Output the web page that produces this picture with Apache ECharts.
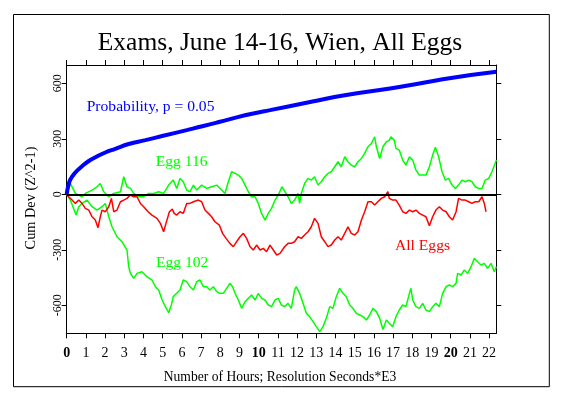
<!DOCTYPE html>
<html>
<head>
<meta charset="utf-8">
<script src="https://cdn.jsdelivr.net/npm/echarts@6/dist/echarts.min.js"></script>
<style>
html,body{margin:0;padding:0;background:#fff;}
#c{width:563px;height:398px;}
</style>
</head>
<body>
<div id="c"></div>
<script>
// ---- data (hours, cumulative deviation) ----
const xTickValues = [0,1,2,3,4,5,6,7,8,9,10,11,12,13,14,15,16,17,18,19,20,21,22];
const yTickValues = [-600,-300,0,300,600];

const probability = [[0,0],[0.07,41],[0.19,80],[0.45,118],[0.80,152],[1.15,180],[1.49,200],[2.01,226],[2.53,246],[3.23,272],[4.10,293],[4.97,315],[6.25,347],[7.12,369],[7.98,392],[8.85,416],[9.72,437],[10.59,455],[12.74,500],[14.48,536],[16.84,572],[18.37,599],[20.10,630],[22.38,662]];

const egg116 = [[0,0],[0.19,59],[0.45,5],[0.63,-4],[0.80,-13],[0.97,5],[1.32,23],[1.58,41],[1.75,59],[1.93,14],[2.19,-13],[2.45,5],[2.80,14],[2.97,95],[3.14,41],[3.32,32],[3.49,5],[3.75,-13],[4.01,-13],[4.27,5],[4.53,5],[4.79,14],[5.05,5],[5.31,50],[5.55,77],[5.73,32],[5.90,86],[6.07,68],[6.25,23],[6.42,14],[6.60,50],[6.77,23],[7.03,50],[7.29,32],[7.55,41],[7.81,50],[8.07,23],[8.24,5],[8.42,68],[8.59,122],[8.77,113],[8.94,104],[9.11,86],[9.29,50],[9.46,14],[9.63,-13],[9.81,-13],[9.98,-49],[10.15,-103],[10.33,-139],[10.50,-103],[10.67,-76],[10.85,-31],[11.02,-4],[11.21,41],[11.53,-13],[11.70,-49],[11.87,-31],[12.05,5],[12.13,-49],[12.22,5],[12.39,59],[12.57,86],[12.74,77],[12.91,95],[13.09,50],[13.26,68],[13.44,95],[13.61,113],[13.78,122],[13.96,149],[14.13,176],[14.30,149],[14.48,203],[14.65,176],[14.82,158],[15.00,149],[15.17,176],[15.35,194],[15.52,221],[15.69,257],[15.87,275],[16.04,311],[16.13,257],[16.30,194],[16.47,257],[16.65,284],[16.80,293],[16.89,311],[17.06,293],[17.15,248],[17.32,239],[17.50,185],[17.67,158],[17.85,203],[18.02,185],[18.19,131],[18.37,104],[18.54,104],[18.71,104],[18.89,149],[19.06,212],[19.20,254],[19.37,203],[19.55,122],[19.72,77],[19.89,86],[20.07,50],[20.24,32],[20.41,50],[20.59,77],[20.76,68],[20.94,77],[21.11,68],[21.28,41],[21.46,32],[21.63,32],[21.80,77],[21.98,86],[22.15,122],[22.38,185]];

const egg102 = [[0,0],[0.19,-31],[0.36,-76],[0.49,-112],[0.63,-67],[0.80,-49],[1.06,-31],[1.32,-67],[1.58,-85],[1.84,-67],[2.01,-49],[2.19,-121],[2.36,-175],[2.62,-229],[2.88,-256],[3.14,-301],[3.23,-391],[3.32,-427],[3.49,-454],[3.66,-427],[3.92,-418],[4.18,-445],[4.44,-463],[4.62,-499],[4.79,-517],[4.97,-571],[5.14,-607],[5.31,-640],[5.45,-598],[5.55,-553],[5.73,-535],[5.90,-517],[6.07,-463],[6.25,-472],[6.42,-499],[6.60,-517],[6.77,-472],[6.94,-463],[7.12,-499],[7.29,-499],[7.46,-517],[7.64,-499],[7.81,-526],[7.98,-535],[8.16,-535],[8.33,-508],[8.50,-481],[8.64,-499],[8.77,-535],[8.94,-571],[9.11,-616],[9.29,-580],[9.46,-562],[9.63,-544],[9.81,-571],[9.98,-535],[10.15,-562],[10.33,-571],[10.50,-598],[10.67,-607],[10.85,-571],[11.02,-562],[11.18,-598],[11.35,-607],[11.53,-589],[11.70,-616],[11.87,-517],[11.96,-499],[12.13,-535],[12.31,-589],[12.48,-643],[12.65,-661],[12.83,-688],[13.00,-715],[13.18,-742],[13.35,-715],[13.52,-670],[13.70,-607],[13.87,-616],[14.04,-553],[14.22,-508],[14.39,-535],[14.56,-553],[14.74,-598],[14.91,-616],[15.08,-643],[15.26,-652],[15.43,-661],[15.61,-679],[15.78,-652],[15.95,-616],[16.13,-634],[16.30,-670],[16.47,-730],[16.65,-679],[16.80,-697],[16.98,-715],[17.15,-661],[17.32,-625],[17.50,-598],[17.67,-607],[17.85,-535],[17.93,-508],[18.02,-571],[18.19,-607],[18.37,-616],[18.54,-589],[18.71,-625],[18.89,-634],[19.06,-607],[19.23,-589],[19.41,-607],[19.58,-535],[19.76,-499],[19.93,-490],[20.10,-499],[20.28,-481],[20.36,-427],[20.54,-436],[20.71,-409],[20.88,-427],[21.06,-391],[21.23,-346],[21.40,-364],[21.58,-382],[21.75,-373],[21.92,-400],[22.10,-373],[22.27,-418],[22.38,-391]];

const allEggs = [[0,0],[0.10,-13],[0.28,-31],[0.45,-49],[0.63,-31],[0.80,-49],[0.97,-76],[1.15,-85],[1.32,-121],[1.49,-139],[1.63,-180],[1.75,-121],[1.84,-85],[2.01,-94],[2.19,-67],[2.33,-22],[2.45,-94],[2.62,-85],[2.80,-40],[2.97,-31],[3.14,-22],[3.32,-4],[3.49,-13],[3.66,-13],[3.84,-49],[4.01,-67],[4.24,-94],[4.44,-112],[4.70,-130],[4.88,-157],[5.05,-202],[5.17,-157],[5.35,-94],[5.50,-80],[5.60,-103],[5.73,-112],[5.90,-94],[6.07,-103],[6.25,-49],[6.42,-49],[6.60,-40],[6.86,-31],[7.03,-40],[7.20,-85],[7.38,-103],[7.55,-121],[7.72,-148],[7.95,-166],[8.12,-211],[8.30,-238],[8.50,-265],[8.68,-283],[8.85,-256],[9.03,-229],[9.20,-211],[9.37,-238],[9.55,-283],[9.72,-301],[9.89,-274],[10.07,-301],[10.24,-292],[10.41,-310],[10.59,-274],[10.76,-301],[10.94,-328],[11.11,-319],[11.35,-283],[11.53,-265],[11.70,-265],[11.87,-256],[12.05,-229],[12.22,-238],[12.39,-220],[12.57,-202],[12.74,-175],[12.91,-130],[13.00,-121],[13.09,-157],[13.26,-229],[13.44,-256],[13.61,-283],[13.78,-274],[13.96,-247],[14.13,-229],[14.30,-247],[14.48,-211],[14.65,-175],[14.82,-211],[15.00,-220],[15.17,-202],[15.35,-139],[15.52,-94],[15.69,-40],[15.87,-40],[16.04,-58],[16.21,-40],[16.39,-22],[16.56,-13],[16.73,14],[16.80,-22],[16.98,-31],[17.15,-31],[17.32,-58],[17.50,-94],[17.67,-103],[17.85,-85],[18.02,-94],[18.19,-85],[18.37,-103],[18.54,-112],[18.71,-121],[18.89,-170],[19.06,-121],[19.23,-85],[19.41,-67],[19.58,-85],[19.76,-94],[19.93,-121],[20.10,-139],[20.28,-94],[20.41,-22],[20.59,-31],[20.76,-31],[20.94,-40],[21.11,-49],[21.28,-40],[21.46,-40],[21.63,-13],[21.75,-49],[21.84,-94]];

const titleText = 'Exams, June 14-16, Wien, All Eggs';
const xName = 'Number of Hours; Resolution Seconds*E3';
const yName = 'Cum Dev (Z^2-1)';

// ---- chart ----
const FONT = "'Liberation Serif', 'DejaVu Serif', serif";
const X_MIN = 0, X_MAX = 22.375, Y_MIN = -751, Y_MAX = 699;

const chart = echarts.init(document.getElementById('c'), null, {renderer: 'canvas'});

const xAxisBase = {
  type: 'value', min: X_MIN, max: X_MAX, interval: 1,
  splitLine: {show: false},
  axisLine: {show: true, onZero: false, lineStyle: {color: '#000', width: 1}},
  axisTick: {show: true, inside: false, length: 5, customValues: xTickValues, lineStyle: {color: '#000'}}
};
const yAxisBase = {
  type: 'value', min: Y_MIN, max: Y_MAX,
  splitLine: {show: false},
  axisLine: {show: true, onZero: false, lineStyle: {color: '#000', width: 1}},
  axisTick: {show: true, inside: false, length: 5, customValues: yTickValues, lineStyle: {color: '#000'}}
};

const option = {
  animation: false,
  backgroundColor: '#fff',
  grid: {left: 66.7, right: 66.7, top: 65, bottom: 64.7, containLabel: false},
  xAxis: [
    Object.assign({}, xAxisBase, {
      position: 'bottom',
      axisLabel: {
        show: true, customValues: xTickValues, margin: 13,
        fontFamily: FONT, fontSize: 14, color: '#000',
        formatter: function (v) { return (v % 10 === 0) ? '{b|' + v + '}' : String(v); },
        rich: {b: {fontFamily: FONT, fontSize: 14, fontWeight: 'bold', color: '#000'}}
      }
    }),
    Object.assign({}, xAxisBase, {position: 'top', axisLabel: {show: false}})
  ],
  yAxis: [
    Object.assign({}, yAxisBase, {
      position: 'left',
      axisLabel: {show: true, customValues: yTickValues, rotate: 90, margin: 3,
        fontFamily: FONT, fontSize: 12, color: '#000'}
    }),
    Object.assign({}, yAxisBase, {position: 'right', axisLabel: {show: false}})
  ],
  series: [
    {name: 'Egg 102', type: 'line', data: egg102, showSymbol: false, symbol: 'none',
      lineStyle: {color: '#00ff00', width: 1.5}, z: 2},
    {name: 'Egg 116', type: 'line', data: egg116, showSymbol: false, symbol: 'none',
      lineStyle: {color: '#00ff00', width: 1.5}, z: 2},
    {name: 'All Eggs', type: 'line', data: allEggs, showSymbol: false, symbol: 'none',
      lineStyle: {color: '#ff0000', width: 1.5}, z: 3},
    {name: 'Probability', type: 'line', data: probability, smooth: true, showSymbol: false, symbol: 'none',
      lineStyle: {color: '#0000ff', width: 4}, z: 4,
      markLine: {silent: true, symbol: 'none', label: {show: false}, animation: false,
        lineStyle: {color: '#000', width: 2, type: 'solid'}, data: [{yAxis: 0}]}}
  ],
  graphic: [
    {type: 'rect', shape: {x: 13.5, y: 14.5, width: 535.8, height: 372.2},
      style: {fill: 'none', stroke: '#000', lineWidth: 1}, z: 100},
    {type: 'text', x: 280, y: 43, style: {text: titleText, fontFamily: FONT, fontSize: 25.5,
      fill: '#000', align: 'center', verticalAlign: 'middle'}},
    {type: 'text', x: 280, y: 377, style: {text: xName, fontFamily: FONT, fontSize: 13.6,
      fill: '#000', align: 'center', verticalAlign: 'middle'}},
    {type: 'text', x: 31, y: 198, rotation: Math.PI / 2, style: {text: yName, fontFamily: FONT, fontSize: 14.3,
      fill: '#000', align: 'center', verticalAlign: 'middle'}},
    {type: 'text', x: 86.7, y: 107, style: {text: 'Probability, p = 0.05', fontFamily: FONT, fontSize: 15.6,
      fill: '#0000ff', align: 'left', verticalAlign: 'middle'}},
    {type: 'text', x: 155.7, y: 161.5, style: {text: 'Egg 116', fontFamily: FONT, fontSize: 15.6,
      fill: '#00ff00', align: 'left', verticalAlign: 'middle'}},
    {type: 'text', x: 156, y: 263, style: {text: 'Egg 102', fontFamily: FONT, fontSize: 15.6,
      fill: '#00ff00', align: 'left', verticalAlign: 'middle'}},
    {type: 'text', x: 395, y: 246, style: {text: 'All Eggs', fontFamily: FONT, fontSize: 15.6,
      fill: '#ff0000', align: 'left', verticalAlign: 'middle'}}
  ]
};
chart.setOption(option);
</script>
</body>
</html>
